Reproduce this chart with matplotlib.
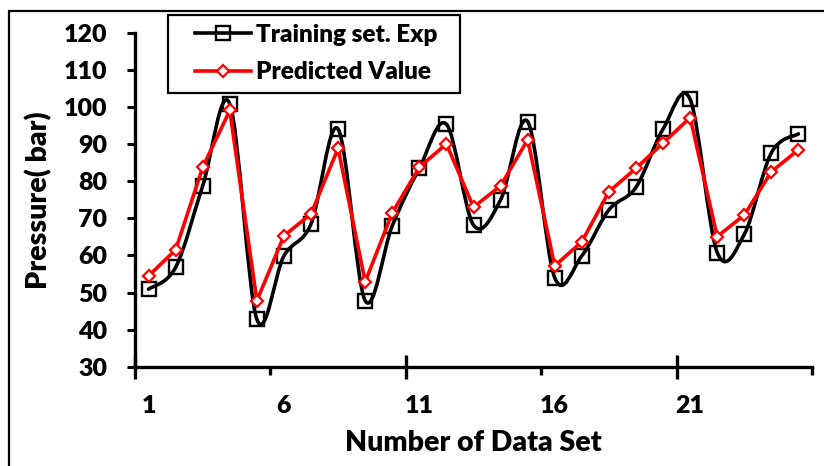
import numpy as np
import matplotlib
matplotlib.use("Agg")
import matplotlib.pyplot as plt
from matplotlib.path import Path
from matplotlib.patches import PathPatch, Rectangle
from matplotlib.lines import Line2D

# Data
data_set = list(range(1, 26))
training_exp = [50.9, 56.8, 78.8, 100.9, 42.8, 59.9, 68.5, 94.1, 47.8, 68.0,
                83.5, 95.4, 68.2, 75.0, 96.1, 54.0, 59.9, 72.3, 78.4, 94.1,
                102.1, 60.8, 65.7, 87.7, 92.8]
predicted = [54.5, 61.5, 83.8, 99.1, 47.8, 65.3, 71.2, 88.9, 52.9, 71.5,
             83.8, 90.1, 73.0, 78.8, 91.2, 57.2, 63.7, 77.2, 83.5, 90.3,
             97.2, 65.1, 70.9, 82.6, 88.5]
x_tick_labels = ["1", "6", "11", "16", "21"]
y_ticks = list(range(30, 121, 10))

FONT = "Lato"
WEIGHT = "heavy"
plt.rcParams["font.family"] = [FONT, "DejaVu Sans"]
plt.rcParams["font.weight"] = WEIGHT


def smooth_path(xs, ys):
    """Catmull-Rom style cubic Bezier through every point (smoothed line)."""
    pts = np.column_stack([xs, ys]).astype(float)
    n = len(pts)
    verts = [pts[0]]
    codes = [Path.MOVETO]
    for i in range(n - 1):
        p0 = pts[i - 1] if i > 0 else pts[i]
        p1 = pts[i]
        p2 = pts[i + 1]
        p3 = pts[i + 2] if i + 2 < n else pts[i + 1]
        c1 = p1 + (p2 - p0) / 6.0
        c2 = p2 - (p3 - p1) / 6.0
        verts += [c1, c2, p2]
        codes += [Path.CURVE4] * 3
    return Path(verts, codes)


W, H = 824, 466
fig = plt.figure(figsize=(W / 100, H / 100), dpi=100)
ax = fig.add_axes([135 / W, 1 - 366.7 / H, (812 - 135) / W, (366.7 - 33) / H])

# outer chart frame
fig.patches.append(Rectangle((8.5 / W, -0.1), 1.2, 1 - 10.5 / H + 0.1,
                             transform=fig.transFigure, fill=False,
                             edgecolor="black", linewidth=1.6, zorder=0))

# smoothed experimental line with square markers
ax.add_patch(PathPatch(smooth_path(data_set, training_exp), facecolor="none",
                       edgecolor="black", linewidth=2.6, zorder=2,
                       capstyle="round", joinstyle="round"))
ax.plot(data_set, training_exp, linestyle="none", marker="s", markersize=9.5,
        markerfacecolor="none", markeredgecolor="black", markeredgewidth=1.7,
        zorder=3)

# predicted values, straight segments with diamond markers
ax.plot(data_set, predicted, color="#ff0000", linewidth=2.6, marker="D",
        markersize=6.5, markerfacecolor="white", markeredgecolor="#ff0000",
        markeredgewidth=1.6, zorder=4, solid_joinstyle="round")

ax.set_xlim(0.5, 25.5)
ax.set_ylim(30, 120)

for side in ("top", "right"):
    ax.spines[side].set_visible(False)
for side in ("left", "bottom"):
    ax.spines[side].set_linewidth(2.4)

ax.set_yticks(y_ticks)
ax.set_yticklabels([str(v) for v in y_ticks])
ax.tick_params(axis="y", direction="out", length=6, width=2.2, pad=14,
               labelsize=18)
for t in ax.get_yticklabels():
    t.set_fontweight(WEIGHT)

# category labels at every fifth data set
ax.set_xticks([int(s) for s in x_tick_labels])
ax.set_xticklabels(x_tick_labels)
ax.tick_params(axis="x", length=0, pad=20.5, labelsize=18)
for t in ax.get_xticklabels():
    t.set_fontweight(WEIGHT)

# tick marks on the category boundaries
sec = ax.secondary_xaxis("bottom")
sec.set_xticks([0.5, 10.5, 20.5])
sec.set_xticks([5.5, 15.5, 25.5], minor=True)
sec.set_xticklabels([])
sec.tick_params(axis="x", which="major", direction="inout", length=17,
                width=2.4)
sec.tick_params(axis="x", which="minor", direction="out", length=6, width=2.4)
sec.spines["bottom"].set_visible(False)

ax.set_ylabel("Pressure( bar)", fontsize=20.5, fontweight=WEIGHT, labelpad=8)
ax.set_xlabel("Number of Data Set", fontsize=20.5, fontweight=WEIGHT,
              labelpad=9)

handles = [
    Line2D([], [], color="black", linewidth=2.6, marker="s", markersize=9.5,
           markerfacecolor="none", markeredgecolor="black",
           markeredgewidth=1.7),
    Line2D([], [], color="#ff0000", linewidth=2.6, marker="D", markersize=6.5,
           markerfacecolor="white", markeredgecolor="#ff0000",
           markeredgewidth=1.6),
]
leg = fig.legend(handles, ["Training set. Exp", "Predicted Value"],
                 loc="upper left", bbox_to_anchor=(195 / W, 1 - 24 / H),
                 bbox_transform=fig.transFigure, frameon=False,
                 borderaxespad=0, borderpad=0,
                 prop={"family": FONT, "weight": WEIGHT, "size": 17.5},
                 handlelength=2.3, handletextpad=0.2, labelspacing=0.62)

# legend box
fig.patches.append(Rectangle((168 / W, 1 - 93 / H), (460 - 168) / W,
                             (93 - 15) / H, transform=fig.transFigure,
                             fill=False, edgecolor="black", linewidth=1.6,
                             zorder=5))

fig.savefig("out.png", dpi=100)
